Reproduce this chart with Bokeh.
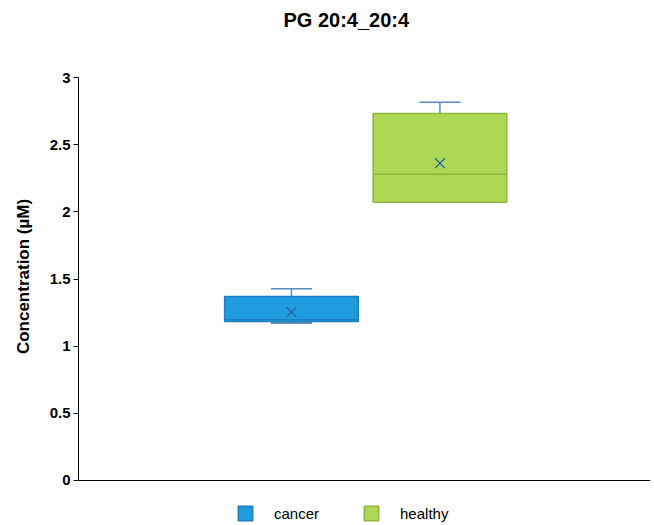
import numpy as np
from bokeh.plotting import figure
from bokeh.models import Range1d, FixedTicker, Legend, LegendItem, ColumnDataSource
from bokeh.embed import file_html
from bokeh.resources import INLINE

groups = ["cancer", "healthy"]
q1 = [1.184, 2.072]
median = [1.197, 2.280]
q3 = [1.370, 2.732]
whisker_low = [1.172, 2.072]
whisker_high = [1.427, 2.816]
mean = [1.253, 2.362]
fill_colors = ["#1F9BDE", "#ADD856"]
edge_colors = ["#1C80BE", "#8DB53F"]
y_ticks = [0, 0.5, 1, 1.5, 2, 2.5, 3]
y_tick_labels = ["0", "0.5", "1", "1.5", "2", "2.5", "3"]

xpos = np.arange(len(groups), dtype=float)
box_w = 0.9

p = figure(output_backend="svg", toolbar_location=None,
           frame_width=572, frame_height=492,
           min_border_left=78, min_border_right=2, min_border_top=30, min_border_bottom=0,
           x_range=Range1d(-1.434, 2.418), y_range=Range1d(-0.3127, 3.35),
           title="PG 20:4_20:4")
p.title.text_font = "Liberation Sans"
p.title.text_font_style = "bold"
p.title.text_font_size = "20px"
p.title.align = "left"
p.title.offset = 205
p.title.standoff = 0
p.title.text_color = "#000000"

p.outline_line_color = None
p.grid.grid_line_color = None
p.background_fill_color = "white"

whisk_color = "#5A8DC0"
p.segment(x0=xpos, x1=xpos, y0=q3, y1=whisker_high, line_color=whisk_color, line_width=1.5)
p.segment(x0=xpos, x1=xpos, y0=q1, y1=whisker_low, line_color=whisk_color, line_width=1.5)
p.scatter(x=xpos, y=whisker_high, marker="dash", size=41, line_color=whisk_color, line_width=1.5)
p.scatter(x=xpos, y=whisker_low, marker="dash", size=41, line_color="#2E6BA8", line_width=1.5)

# boxes
renderers = []
for i in range(len(groups)):
    src = ColumnDataSource(dict(x=[xpos[i]], q1=[q1[i]], q3=[q3[i]]))
    r = p.vbar(x="x", width=box_w, bottom="q1", top="q3", source=src,
               fill_color=fill_colors[i], line_color=edge_colors[i], line_width=1.5)
    renderers.append(r)
    p.segment(x0=[xpos[i] - box_w / 2], x1=[xpos[i] + box_w / 2], y0=[median[i]], y1=[median[i]],
              line_color=edge_colors[i], line_width=1.5)

p.scatter(x=xpos, y=mean, marker="x", size=14, line_color="#2A609A", line_width=1.3)

# axes
p.yaxis.ticker = FixedTicker(ticks=y_ticks, minor_ticks=[])
p.yaxis.bounds = (0, 3)
p.yaxis.major_label_overrides = {t: l for t, l in zip(y_ticks, y_tick_labels)}
p.yaxis.axis_label = "Concentration (µM)"
p.yaxis.axis_label_text_font = "Liberation Sans"
p.yaxis.axis_label_text_font_style = "bold"
p.yaxis.axis_label_text_font_size = "17px"
p.yaxis.axis_label_standoff = 14
p.yaxis.major_label_text_font = "Liberation Sans"
p.yaxis.major_label_text_font_style = "bold"
p.yaxis.major_label_text_font_size = "15px"
p.yaxis.major_label_text_color = "#000000"
p.yaxis.axis_label_text_color = "#000000"
p.yaxis.major_label_standoff = 3
p.yaxis.major_tick_out = 5
p.yaxis.major_tick_in = 0
p.yaxis.axis_line_color = "black"
p.yaxis.major_tick_line_color = "black"

p.xaxis.fixed_location = 0
p.xaxis.ticker = FixedTicker(ticks=[])
p.xaxis.major_label_text_font_size = "0px"
p.xaxis.major_tick_line_color = None
p.xaxis.minor_tick_line_color = None
p.xaxis.major_tick_out = 0
p.xaxis.axis_line_color = "black"

legend = Legend(items=[LegendItem(label=g, renderers=[r]) for g, r in zip(groups, renderers)],
                orientation="horizontal", location=(158, 0),
                glyph_width=18, glyph_height=18, label_standoff=20, spacing=43,
                padding=0, margin=0, border_line_color=None, background_fill_alpha=0,
                label_text_font="Liberation Sans", label_text_font_size="15px",
                label_text_color="#000000", label_height=18)
p.add_layout(legend, "center")

open("out.html", "w").write(file_html(p, INLINE))
